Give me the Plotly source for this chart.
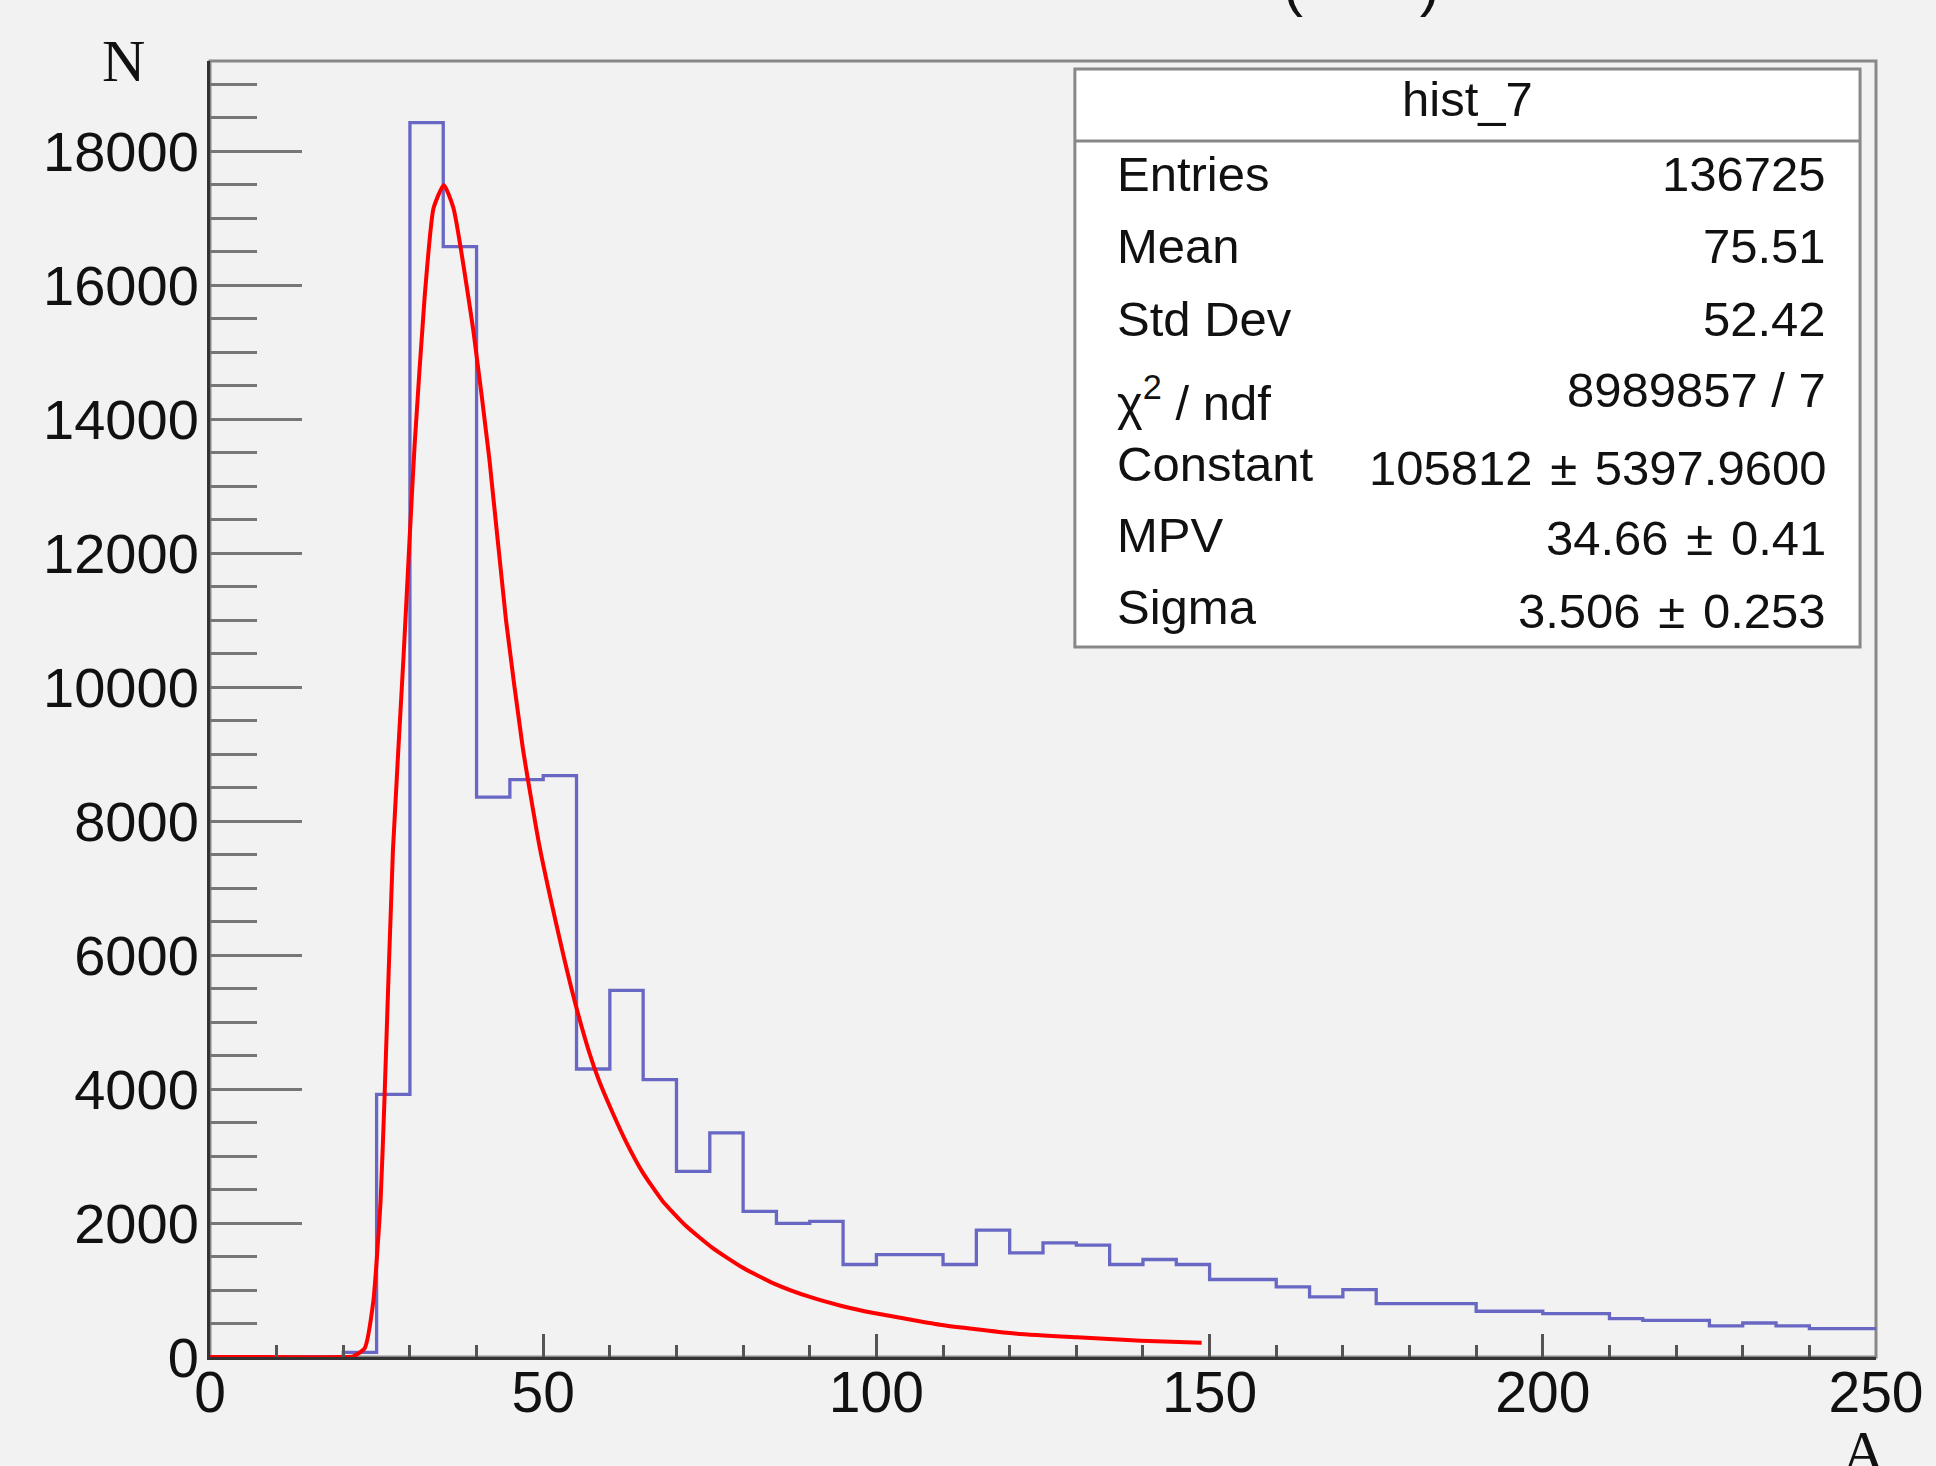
import plotly.graph_objects as go

# ---------------- data ----------------
bin_low = [0, 5, 10, 15, 20, 25, 30, 35, 40, 45, 50, 55, 60, 65, 70, 75, 80, 85, 90, 95,
           100, 105, 110, 115, 120, 125, 130, 135, 140, 145, 150, 155, 160, 165, 170, 175,
           180, 185, 190, 195, 200, 205, 210, 215, 220, 225, 230, 235, 240, 245]
bin_high_end = 250
counts = [0, 0, 0, 0, 70, 3920, 18430, 16580, 8360, 8620, 8680, 4300, 5475, 4140, 2770,
          3345, 2175, 1994, 2025, 1381, 1530, 1530, 1381, 1894, 1555, 1705, 1670, 1381,
          1456, 1381, 1157, 1157, 1047, 897, 1007, 798, 798, 798, 683, 683, 648, 648, 573,
          548, 548, 464, 508, 464, 424, 424]

fit_x = [0, 20, 21.5, 23.2, 24.5, 25.6, 26.2, 27.45, 29.05, 29.95, 30.7, 32.2, 33.54, 35.09,
         36.54, 39.55, 41.93, 44.43, 46.92, 49.42, 51.91, 54.4, 56.9, 58.4, 60.4, 62.4,
         64.9, 67.9, 71.4, 75.4, 79.9, 84.9, 89.9, 94.8, 99.8, 104.8, 109.8, 120.4, 130.1,
         139.7, 148.8]
fit_y = [0, 0, 10, 128, 824, 2335, 3905, 7565, 10470, 12214, 13608, 15815, 17151, 17500,
         17151, 15300, 13400, 10991, 9106, 7639, 6487, 5440, 4550, 4120, 3650, 3220,
         2760, 2330, 1960, 1630, 1335, 1085, 900, 762, 652, 563, 478, 353, 294,
         244, 214]

PM = "\u00a0\u200a±\u200a\u00a0"
stat_labels = ["Entries", "Mean", "Std Dev", "χ<sup>2</sup> / ndf", "Constant", "MPV", "Sigma"]
stat_values = ["136725", "75.51", "52.42", "8989857 / 7", "105812" + PM + "5397.9600",
               "34.66" + PM + "0.41", "3.506" + PM + "0.253"]
stat_title = "hist_7"
x_title = "A"
y_title = "N"

# ---------------- geometry helpers ----------------
W, H = 1936, 1466
PL, PR, PT, PB = 210, 1882, 61, 1357


def px(xp):
    return (xp - PL) / (PR - PL)


def py(yp):
    return (PB - yp) / (PB - PT)


SANS = "Liberation Sans, Arial, sans-serif"
SERIF = "Liberation Serif, Times New Roman, serif"

hist_x = bin_low + [bin_high_end]
hist_y = counts + [counts[-1]]

fig = go.Figure()
fig.add_trace(go.Scatter(x=hist_x, y=hist_y, mode="lines", line_shape="hv",
                         line=dict(color="#6868c4", width=3.3), showlegend=False,
                         hoverinfo="skip"))
fig.add_trace(go.Scatter(x=fit_x, y=fit_y, mode="lines", line_shape="spline",
                         line=dict(color="#ff0000", width=4, smoothing=0.5),
                         showlegend=False, hoverinfo="skip"))

fig.update_layout(
    width=W, height=H,
    margin=dict(l=PL, r=W - PR, t=PT, b=H - PB, pad=0),
    paper_bgcolor="#f2f2f2", plot_bgcolor="#f2f2f2",
    showlegend=False,
)

fig.update_xaxes(
    range=[0, 250], showgrid=False, zeroline=False,
    showline=True, linecolor="#333333", linewidth=3,
    ticks="inside", ticklen=23, tickwidth=3, tickcolor="#555555",
    tick0=0, dtick=50,
    minor=dict(ticks="inside", dtick=10, ticklen=12, tickwidth=3, tickcolor="#555555"),
    tickfont=dict(family=SANS, size=57, color="#111111"),
    ticklabelstandoff=-16,
)
fig.update_yaxes(
    range=[0, 19350], showgrid=False, zeroline=False,
    showline=True, linecolor="#333333", linewidth=3,
    ticks="inside", ticklen=92, tickwidth=3, tickcolor="#777777",
    tick0=0, dtick=2000, tickformat="d",
    minor=dict(ticks="inside", dtick=500, ticklen=47, tickwidth=3, tickcolor="#777777"),
    tickfont=dict(family=SANS, size=56, color="#111111"),
    ticklabelstandoff=-3,
)

shapes = [
    # frame
    dict(type="rect", xref="paper", yref="paper", x0=0, x1=1, y0=0, y1=1,
         line=dict(color="#888888", width=3), layer="below"),
    # stat box
    dict(type="rect", xref="paper", yref="paper", x0=px(1078), x1=px(1866),
         y0=py(647), y1=py(69), fillcolor="#ffffff",
         line=dict(color="#888888", width=3), layer="above"),
    dict(type="line", xref="paper", yref="paper", x0=px(1078), x1=px(1866),
         y0=py(141), y1=py(141), line=dict(color="#888888", width=3), layer="above"),
]
fig.update_layout(shapes=shapes)

ann = []
ann.append(dict(text=stat_title, x=px(1472), y=py(99), xanchor="center", yanchor="middle"))
label_y = [174, 246, 319, 399, 464, 535, 607]
value_y = [174, 246, 319, 390, 468, 538, 611]
for lab, val, ly, vy in zip(stat_labels, stat_values, label_y, value_y):
    ann.append(dict(text=lab, x=px(1118), y=py(ly), xanchor="left", yanchor="middle"))
    ann.append(dict(text=val, x=px(1834), y=py(vy), xanchor="right", yanchor="middle"))
for a in ann:
    a.update(xref="paper", yref="paper", showarrow=False,
             font=dict(family=SANS, size=49, color="#111111"))

# axis titles
ann.append(dict(text=y_title, x=px(123), y=py(61), xref="paper", yref="paper",
                xanchor="center", yanchor="middle", showarrow=False,
                font=dict(family=SERIF, size=60, color="#111111")))
ann.append(dict(text=x_title, x=px(1869), y=py(1452), xref="paper", yref="paper",
                xanchor="center", yanchor="middle", showarrow=False,
                font=dict(family=SERIF, size=60, color="#111111")))
# cut-off histogram title (only the bottoms of the brackets are visible)
ann.append(dict(text="(" + "\u00a0" * 7 + ")", x=px(1366), y=py(20), xref="paper",
                yref="paper", xanchor="center", yanchor="bottom", showarrow=False,
                font=dict(family=SANS, size=60, color="#111111")))
fig.update_layout(annotations=ann)

fig.write_html("out.html", config={"displayModeBar": False},
               post_script="document.body.style.margin='0';document.body.style.background='#f2f2f2';")
